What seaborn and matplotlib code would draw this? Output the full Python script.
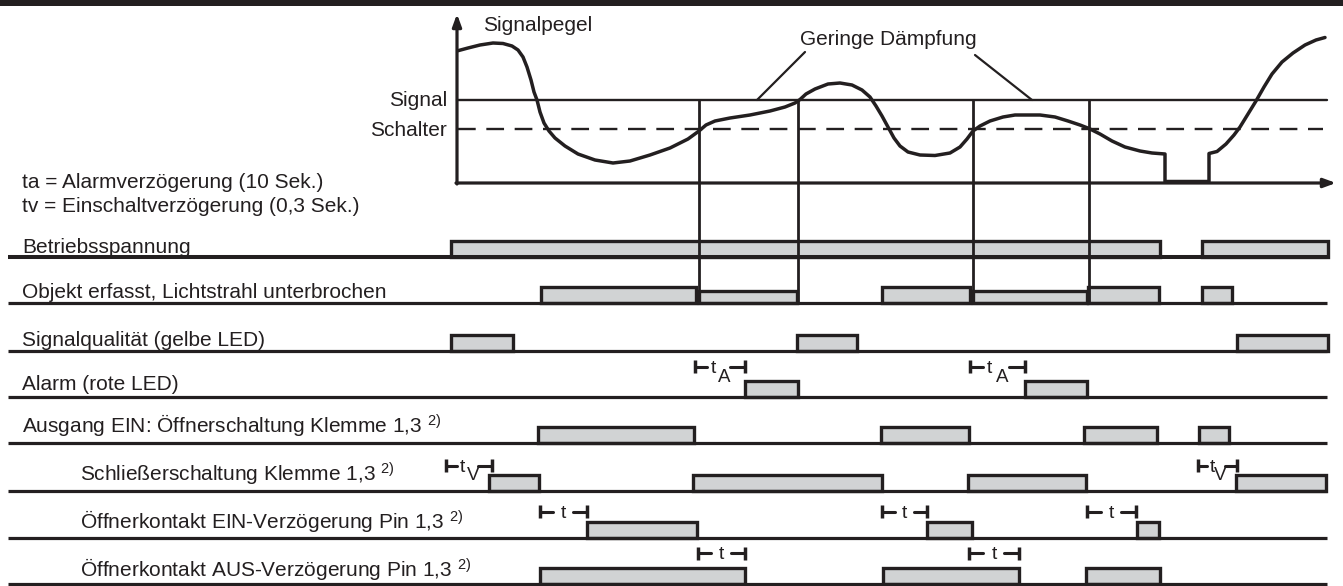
import numpy as np
import pandas as pd
import matplotlib.pyplot as plt
import seaborn as sns

# Signal level curve (time, level)
sig_t = [458, 468, 480, 493, 503, 512, 518, 523, 527, 531, 534, 537, 540, 544, 549, 555, 565, 578,
         595, 613, 630, 650, 670, 688, 699, 706, 715, 730, 750, 770, 785, 795, 800, 806, 815, 828,
         840, 852, 862, 870, 876, 882, 888, 894, 900, 908, 920, 935, 950, 960, 967, 973, 980, 990,
         1003, 1015, 1040, 1055, 1068, 1080, 1089, 1100, 1112, 1125, 1140, 1152, 1165, 1165, 1209,
         1209, 1217, 1226, 1234, 1240, 1248, 1256, 1264, 1272, 1282, 1293, 1305, 1316, 1325]
sig_y = [50.7, 48, 45, 43, 43.5, 46, 50, 57, 67, 80, 92, 100, 112, 123, 131, 138, 146, 154,
         160, 163, 161, 155, 148, 139, 131, 125, 121, 118, 115, 111, 107, 103, 99.5, 94, 89, 84,
         83, 85, 90, 97, 106, 116, 127, 138, 146, 152, 155, 155.5, 153, 147, 139, 131, 126, 121,
         117, 115, 115, 117, 121, 125, 128.5, 134, 141, 147, 151, 153, 154, 181.5, 181.5,
         153.5, 151.5, 144, 135, 127, 114, 101, 87, 74, 62, 53, 45, 40, 37.5]

signal_level = 99.5
switch_level = 128.7
events = [699, 798, 973, 1089]

row_labels = ["Betriebsspannung",
              "Objekt erfasst, Lichtstrahl unterbrochen",
              "Signalqualität (gelbe LED)",
              "Alarm (rote LED)",
              "Ausgang EIN: Öffnerschaltung Klemme 1,3",
              "Schließerschaltung Klemme 1,3",
              "Öffnerkontakt EIN-Verzögerung Pin 1,3",
              "Öffnerkontakt AUS-Verzögerung Pin 1,3"]
has_note = [False, False, False, False, True, True, True, True]

# on-intervals (start, end) per row
betrieb = [(451, 1160), (1202, 1328)]
objekt = [(541, 696), (882, 970), (1088, 1159), (1202, 1232)]
objekt_low = [(699, 797), (973, 1087)]
qualitaet = [(451, 513), (797, 857), (1237, 1328)]
alarm = [(745, 798), (1025, 1087)]
ausgang = [(538, 694), (881, 969), (1084, 1157), (1199, 1229)]
schliesser = [(489, 539), (693, 882), (968, 1086), (1236, 1326)]
ein_verz = [(587, 697), (927, 972), (1137, 1159)]
aus_verz = [(540, 745), (883, 1019), (1086, 1160)]

# delay spans (start, end)
t_alarm = [(695, 745), (970, 1025)]
t_v = [(446, 492), (1198, 1237)]
t_ein = [(540, 587), (882, 927), (1087, 1136)]
t_aus = [(698, 745), (969, 1019)]

ink = "#231f20"
fill = "#d1d3d4"
fs = 15

sns.set_theme(style="white")
plt.rcParams['font.family'] = ['Liberation Sans', 'DejaVu Sans']
plt.rcParams['mathtext.fontset'] = 'custom'
plt.rcParams['mathtext.rm'] = 'Liberation Sans'
plt.rcParams['mathtext.default'] = 'regular'

fig = plt.figure(figsize=(13.43, 5.86), dpi=100)
ax = fig.add_axes([0, 0, 1, 1])

# top rule
ax.axhspan(0, 6, color=ink, lw=0)

# signal panel
ax.annotate('', xy=(457, 14), xytext=(457, 184),
            arrowprops=dict(arrowstyle='-|>,head_length=0.6,head_width=0.22', lw=2.3, color=ink,
                            shrinkA=0, shrinkB=0))
ax.annotate('', xy=(1336, 183), xytext=(456, 183),
            arrowprops=dict(arrowstyle='-|>,head_length=0.6,head_width=0.22', lw=2.3, color=ink,
                            shrinkA=0, shrinkB=0))
ax.plot([457, 1327], [signal_level, signal_level], color=ink, lw=1.7)
ax.plot([458, 1323], [switch_level, switch_level], color=ink, lw=1.7, dashes=(7.5, 4.5))
sns.lineplot(x=sig_t, y=sig_y, ax=ax, sort=False, estimator=None, color=ink, linewidth=2.5)
ax.vlines(events, signal_level, 303.3, color=ink, lw=2.0, zorder=6)

ax.text(483, 30.7, "Signalpegel", fontsize=fs, color=ink, va='baseline')
ax.text(800, 45, "Geringe Dämpfung", fontsize=fs, color=ink, va='baseline')
ax.plot([805, 757], [52, 100], color=ink, lw=1.6)
ax.plot([975, 1032], [55, 100], color=ink, lw=1.6)
ax.text(447, 106, "Signal", fontsize=fs, color=ink, ha='right', va='baseline')
ax.text(447, 136.5, "Schalter", fontsize=fs, color=ink, ha='right', va='baseline')
ax.text(22, 188.5, "ta = Alarmverzögerung (10 Sek.)", fontsize=fs, color=ink, va='baseline')
ax.text(22, 212, "tv = Einschaltverzögerung (0,3 Sek.)", fontsize=fs, color=ink, va='baseline')

# timing rows
row_y = [256.7, 303.3, 351.0, 397.3, 443.3, 491.0, 537.7, 583.7]
text_y = [253.0, 298.5, 346.0, 389.5, 434.0, 482.0, 530.0, 577.5]
text_x = [22, 22, 22, 22, 22, 80, 80, 80]
rows = [betrieb, objekt, qualitaet, alarm, ausgang, schliesser, ein_verz, aus_verz]
bar_h = 16


def draw_bars(spans, y0, h):
    s = np.array(spans, dtype=float)
    ax.bar(s[:, 0], -h, width=s[:, 1] - s[:, 0], bottom=y0, align='edge',
           color=fill, edgecolor=ink, linewidth=2.4, zorder=3)


for i, (lab, y0) in enumerate(zip(row_labels, row_y)):
    ax.plot([8, 1327], [y0, y0], color=ink, lw=2.9 if i == 0 else 2.3, zorder=4,
            solid_capstyle='butt')
    draw_bars(rows[i], y0, bar_h)
    txt = lab + (r" $^{2)}$" if has_note[i] else "")
    ax.text(text_x[i], text_y[i], txt, fontsize=fs, color=ink, va='baseline')
draw_bars(objekt_low, row_y[1], 12)


def draw_span(x0, x1, yc, sub=None):
    w = x1 - x0
    ax.plot([x0, x0], [yc - 6.5, yc + 6.5], color=ink, lw=2.5, solid_capstyle='butt')
    ax.plot([x1, x1], [yc - 6.5, yc + 6.5], color=ink, lw=2.5, solid_capstyle='butt')
    if sub:
        ax.plot([x0, x0 + 0.24 * w], [yc, yc], color=ink, lw=2.2)
        ax.plot([x0 + 0.70 * w, x1], [yc, yc], color=ink, lw=2.2)
        ax.text(x0 + 0.36 * w, yc + 6, "t", fontsize=14, color=ink, ha='center', va='baseline')
        ax.text(x0 + 0.58 * w, yc + 15, sub, fontsize=13.5, color=ink, ha='center', va='baseline')
    else:
        ax.plot([x0, x0 + 0.28 * w], [yc, yc], color=ink, lw=2.2)
        ax.plot([x0 + 0.70 * w, x1], [yc, yc], color=ink, lw=2.2)
        ax.text(x0 + 0.50 * w, yc + 6, "t", fontsize=14, color=ink, ha='center', va='baseline')


for a, b in t_alarm:
    draw_span(a, b, 366.7, "A")
for a, b in t_v:
    draw_span(a, b, 465.5, "V")
for a, b in t_ein:
    draw_span(a, b, 511.5)
for a, b in t_aus:
    draw_span(a, b, 553.3)

ax.set_xlim(0, 1343)
ax.set_ylim(586, 0)
ax.axis('off')
fig.savefig("out.png", dpi=100)
